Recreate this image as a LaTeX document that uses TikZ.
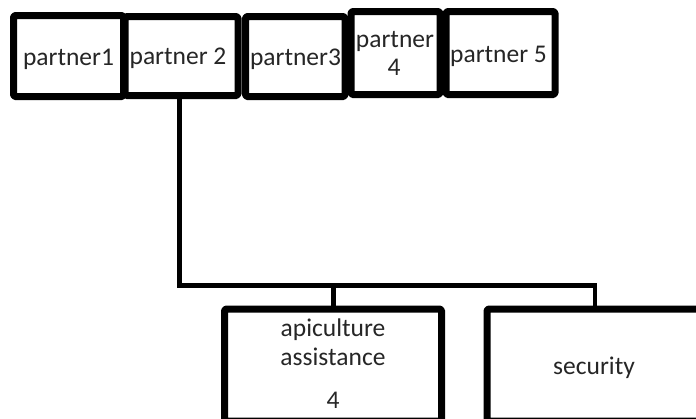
\documentclass[tikz,border=0pt]{standalone}
\usepackage{fontspec}
\setmainfont{Carlito}
\begin{document}
\begin{tikzpicture}[x=1pt,y=-1pt,
  box/.style={draw=black, fill=white, line width=7pt, line join=round, rounded corners=1.5pt, inner sep=0pt},
  conn/.style={draw=black, line width=4.5pt},
  lbl/.style={anchor=base, inner sep=0pt, text=black!85, font=\fontsize{25.5}{29}\selectfont}]
\useasboundingbox (0,0) rectangle (696,418);
\clip (0,0) rectangle (696,418);
% top row
\node[box, minimum width=113pt, minimum height=79pt] (p2) at (181.5,56) {};
\node[box, minimum width=110pt, minimum height=81pt] (p1) at (68.5,56) {};
\node[box, minimum width=99.5pt, minimum height=80pt] (p3) at (295.25,56.5) {};
\node[box, minimum width=89pt, minimum height=83pt] (p4) at (395.5,53) {};
\node[box, minimum width=109pt, minimum height=83pt] (p5) at (500.5,53) {};
\node[lbl] (t1) at (68.5,65) {partner1};
\node[lbl] (t2) at (178,64) {partner 2};
\node[lbl] (t3) at (295.5,65) {partner3};
\node[lbl] (t4a) at (395,47) {partner};
\node[lbl] (t4b) at (394,75) {4};
\node[lbl] (t5) at (498.5,62) {partner 5};
% bottom row
\node[box, minimum width=217pt, minimum height=112pt] (a) at (333,365) {};
\node[box, minimum width=233pt, minimum height=112pt] (s) at (603.5,365) {};
\node[lbl] (ta1) at (333,336) {apiculture};
\node[lbl] (ta2) at (333,365) {assistance};
\node[lbl] (ta3) at (333,408) {4};
\node[lbl] (ts) at (594,374) {security};
% connectors
\coordinate (bus) at (179.5,285.5);
\coordinate (ba) at (333.5,285.5);
\coordinate (bs) at (595,285.5);
\draw[conn] (p2.south -| bus) -- (bus) -- (bs) -- (bs |- s.north);
\draw[conn] (ba) -- (ba |- a.north);
\end{tikzpicture}
\end{document}
